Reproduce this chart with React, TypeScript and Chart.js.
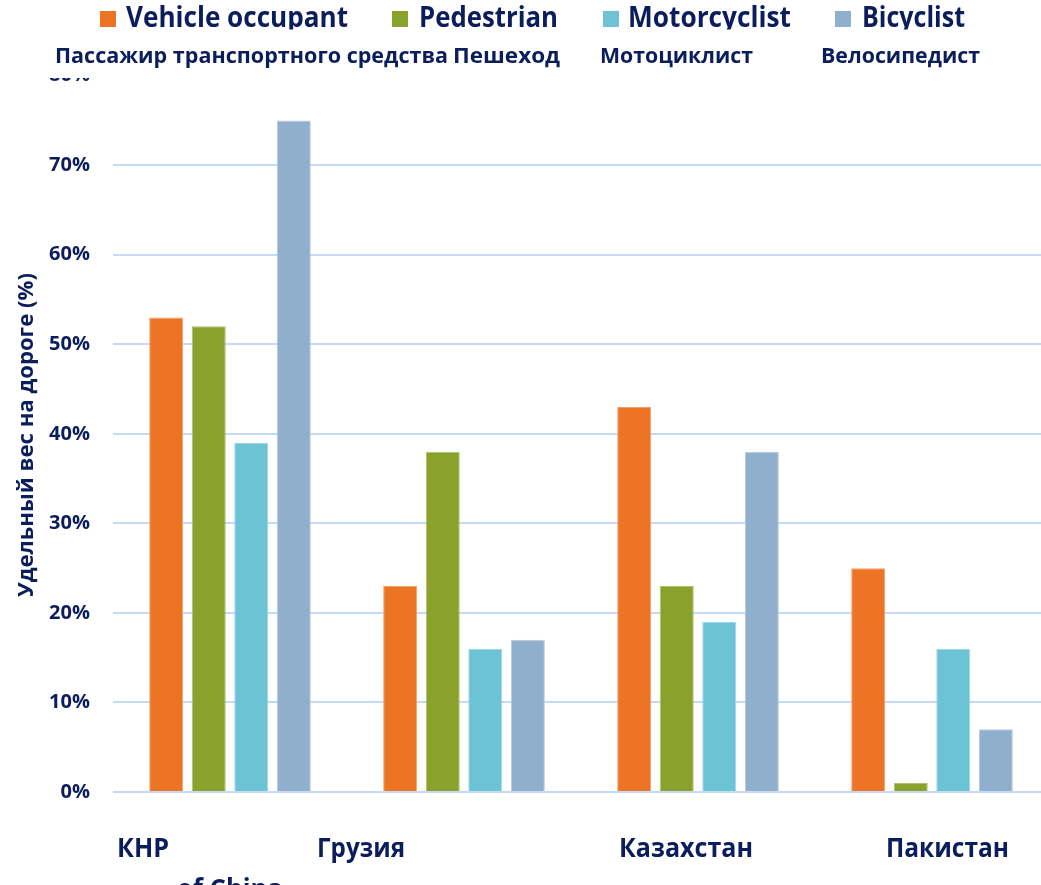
import React, { useEffect, useRef } from 'react';
import { Chart, registerables } from 'chart.js';

Chart.register(...registerables);

// ---- data ----
const categories = ['КНР', 'Грузия', 'Казахстан', 'Пакистан'];
const seriesEn = ['Vehicle occupant', 'Pedestrian', 'Motorcyclist', 'Bicyclist'];
const seriesRu = ['Пассажир транспортного средства', 'Пешеход', 'Мотоциклист', 'Велосипедист'];
const vehicleOccupant = [53, 23, 43, 25];
const pedestrian = [52, 38, 23, 1];
const motorcyclist = [39, 16, 19, 16];
const bicyclist = [75, 17, 38, 7];
const yAxisTitle = 'Удельный вес на дороге (%)';
const leftoverLabel = 'of China';

// ---- style ----
const NAVY = '#0C1D5C';
const COLORS = ['#EC7424', '#8AA22B', '#6CC3D3', '#90AFCD'];
const EDGES = ['#F2A06A', '#ABC06C', '#9CD6E2', '#B4CADF'];
const FONT = '"Open Sans", "DejaVu Sans", sans-serif';

// layout helpers (pixel positions of overlay texts)
const enLegend = [
  { sq: 100, tx: 126, w: 222 },
  { sq: 392, tx: 419, w: 139 },
  { sq: 603, tx: 628, w: 163 },
  { sq: 835, tx: 862, w: 103 },
];
const ruLegend = [
  { tx: 55, w: 393 },
  { tx: 453, w: 107 },
  { tx: 600, w: 153 },
  { tx: 821, w: 159 },
];
const xLabelLayout = [
  { off: -113, w: 52 },
  { off: -147, w: 88 },
  { off: -79, w: 134 },
  { off: -46, w: 123 },
];

function fitText(ctx: CanvasRenderingContext2D, text: string, x: number, y: number, w: number, font: string) {
  ctx.font = font;
  const m = ctx.measureText(text).width || 1;
  ctx.save();
  ctx.translate(x, y);
  ctx.scale(w / m, 1);
  ctx.fillText(text, 0, 0);
  ctx.restore();
}

const overlayPlugin = {
  id: 'overlay',
  afterDraw(chart: any) {
    const ctx: CanvasRenderingContext2D = chart.ctx;
    const xs = chart.scales.x;
    ctx.save();
    ctx.textAlign = 'left';
    ctx.textBaseline = 'alphabetic';

    // English legend row
    enLegend.forEach((l, i) => {
      ctx.fillStyle = COLORS[i];
      ctx.fillRect(l.sq, 11, 16, 16);
      ctx.fillStyle = NAVY;
      fitText(ctx, seriesEn[i], l.tx, 27, l.w, `bold 28px ${FONT}`);
    });

    // white overlay band
    ctx.fillStyle = '#FFFFFF';
    ctx.fillRect(0, 29.5, chart.width, 48.5);

    // Russian legend row
    ctx.fillStyle = NAVY;
    ruLegend.forEach((l, i) => {
      fitText(ctx, seriesRu[i], l.tx, 63, l.w, `bold 22px ${FONT}`);
    });

    // x category labels
    categories.forEach((c, i) => {
      const cx = xs.getPixelForValue(i);
      fitText(ctx, c, cx + xLabelLayout[i].off, 857, xLabelLayout[i].w, `bold 26px ${FONT}`);
    });
    fitText(ctx, leftoverLabel, 177, 898, 106, `bold 26px ${FONT}`);

    // y axis title
    ctx.save();
    ctx.translate(27, 435);
    ctx.rotate(-Math.PI / 2);
    ctx.textBaseline = 'middle';
    ctx.font = `bold 22px ${FONT}`;
    const m = ctx.measureText(yAxisTitle).width;
    ctx.scale(324 / m, 1);
    ctx.fillText(yAxisTitle, -m / 2, 0);
    ctx.restore();

    ctx.restore();
  },
};

export default function App() {
  const ref = useRef<HTMLCanvasElement | null>(null);

  useEffect(() => {
    if (!ref.current) return;
    const values = [vehicleOccupant, pedestrian, motorcyclist, bicyclist];
    const chart = new Chart(ref.current, {
      type: 'bar',
      data: {
        labels: categories,
        datasets: values.map((v, i) => ({
          label: seriesEn[i],
          data: v,
          backgroundColor: COLORS[i],
          borderColor: EDGES[i],
          borderWidth: 1,
          categoryPercentage: 0.727,
          barPercentage: 0.8,
        })),
      },
      options: {
        responsive: false,
        animation: false,
        devicePixelRatio: 1,
        layout: { padding: { left: 0, right: 11, top: 75.6, bottom: 93 } },
        plugins: { legend: { display: false }, tooltip: { enabled: false } },
        scales: {
          x: {
            grid: { display: false },
            border: { display: false },
            ticks: { display: false },
            afterFit: (s: any) => {
              s.height = 0;
            },
          },
          y: {
            min: 0,
            max: 80,
            ticks: {
              stepSize: 10,
              callback: (v: any) => `${v}%`,
              font: { family: FONT, size: 20, weight: 'bold' },
              color: NAVY,
              padding: 23,
            },
            grid: { color: '#C6D9F5', lineWidth: 2, drawTicks: false },
            border: { display: false },
            afterFit: (s: any) => {
              s.width = 113;
            },
          },
        },
      } as any,
      plugins: [overlayPlugin],
    });
    return () => chart.destroy();
  }, []);

  return (
    <div
      style={{
        position: 'absolute',
        left: 0,
        top: 0,
        width: 1041,
        height: 885,
        overflow: 'hidden',
        background: '#FFFFFF',
      }}
    >
      <canvas ref={ref} width={1060} height={885} style={{ width: 1060, height: 885, display: 'block' }} />
    </div>
  );
}
